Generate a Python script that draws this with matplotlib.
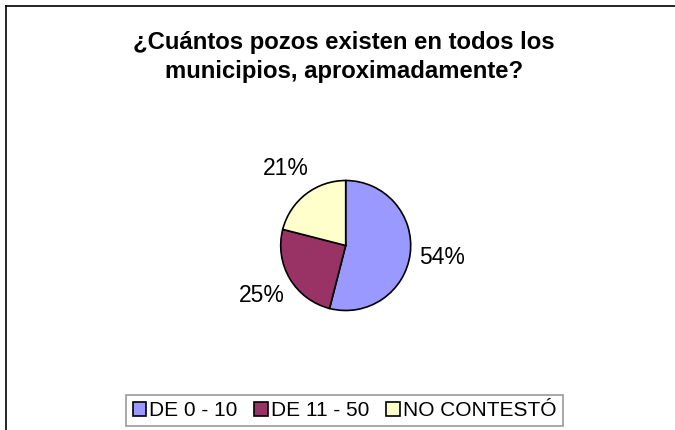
import numpy as np
import matplotlib
matplotlib.use('Agg')
import matplotlib.pyplot as plt
from matplotlib.patches import Patch
from matplotlib.lines import Line2D

plt.rcParams['font.family'] = ['Liberation Sans', 'DejaVu Sans']

# survey answers
categories = ['DE 0 - 10', 'DE 11 - 50', 'NO CONTESTÓ']
values = [54, 25, 21]
colors = ['#9999FF', '#993366', '#FFFFCC']
title = '¿Cuántos pozos existen en todos los\nmunicipios, aproximadamente?'

W, H = 675, 430
fig = plt.figure(figsize=(W / 100, H / 100), dpi=100)

# chart area border (top and left edges)
ytop = 1 - 6 / H
xleft = 6 / W
fig.add_artist(Line2D([xleft, 1], [ytop, ytop], color='black', lw=1.2))
fig.add_artist(Line2D([xleft, xleft], [0, ytop], color='black', lw=1.2))

fig.text(344 / W, 1 - 57 / H, title, ha='center', va='center',
         fontsize=17.2, fontweight='bold', linespacing=1.32)

# pie axes: centre and radius in pixels
cx, cy, r = 345.7, 245.5, 65
ax = fig.add_axes([(cx - r) / W, (H - cy - r) / H, 2 * r / W, 2 * r / H])
wedges, _ = ax.pie(values, colors=colors, startangle=90, counterclock=False,
                   wedgeprops=dict(edgecolor='black', linewidth=1.2))
ax.set_xlim(-1, 1)
ax.set_ylim(-1, 1)
ax.set_aspect('equal')

total = sum(values)
for w, v in zip(wedges, values):
    ang = np.deg2rad((w.theta1 + w.theta2) / 2)
    ax.text(1.5 * np.cos(ang), 1.5 * np.sin(ang), f'{round(100 * v / total)}%',
            ha='center', va='center', fontsize=16.5, clip_on=False)

handles = [Patch(facecolor=c, edgecolor='black', linewidth=1.2) for c in colors]
leg = fig.legend(handles, categories, loc='center', ncol=3,
                 bbox_to_anchor=(344.5 / W, 1 - 410.5 / H),
                 fontsize=15, frameon=True, fancybox=False,
                 handlelength=0.65, handleheight=0.65, handletextpad=0.15,
                 columnspacing=0.8, borderpad=0.3, borderaxespad=0)
leg.get_frame().set_edgecolor('#808080')
leg.get_frame().set_linewidth(1.2)

fig.savefig('out.png', dpi=100)
